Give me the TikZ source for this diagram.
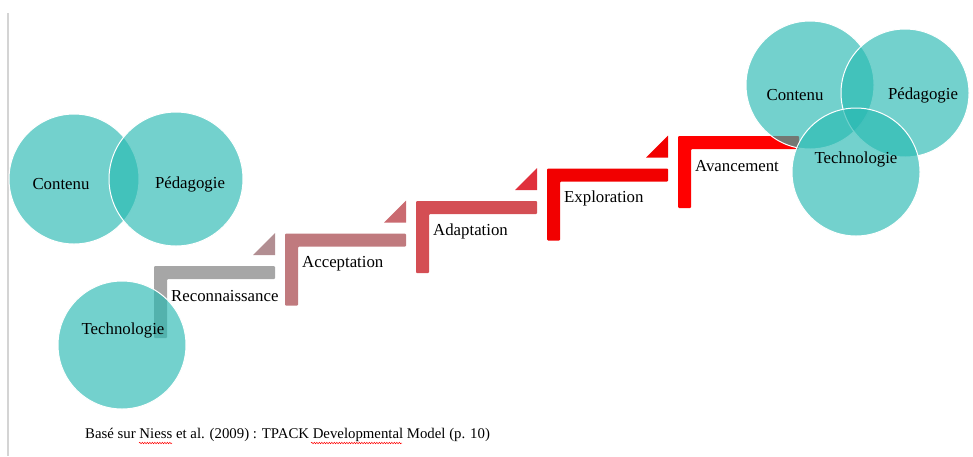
\documentclass[tikz,border=0pt]{standalone}
\usepackage{fontspec}
\setmainfont{Liberation Serif}
\definecolor{tpackteal}{HTML}{28B9B2}
\definecolor{stepgrey}{HTML}{A6A6A6}
\definecolor{tipgrey}{HTML}{B28E92}
\definecolor{steprose}{HTML}{C07A7E}
\definecolor{tiprose}{HTML}{CA6A70}
\definecolor{stepcoral}{HTML}{D44E54}
\definecolor{tipcoral}{HTML}{E0303C}
\definecolor{stepred}{HTML}{F20000}
\definecolor{newred}{HTML}{FF0000}
\definecolor{frameline}{HTML}{D4D4D4}
\usetikzlibrary{positioning, decorations.pathmorphing}
\newcommand{\palier}[5]
{
	\fill[#3, rounded corners=1pt] (#1,#2) -- ++(121,0) -- ++(0,13) -- ++(-108,0) -- ++(0,59) -- ++(-13,0) -- cycle;
	\node[word, anchor=west] at (#1+17,#2+30) (#4){#5}
}
\newcommand{\pointe}[3]
{
	\fill[#3] (#1+99,#2-11) -- (#1+121,#2-11) -- (#1+121,#2-33) -- cycle
}

\begin{document}
\begin{tikzpicture}[x=1pt, y=-1pt,
	word/.style={font=\fontsize{16.8}{20}\selectfont, inner sep=0pt},
	sphere/.style={circle, fill=tpackteal, fill opacity=0.65,
		draw=white, line width=1pt, inner sep=0pt, minimum size=128pt},
	spell/.style={red, line width=0.5pt, decorate,
		decoration={snake, amplitude=0.7pt, segment length=2.5pt}}]

	\useasboundingbox (0,0) rectangle (973,456);
	\draw[frameline, line width=1.5pt] (8,13) -- (8,456);

	% stairs
	\palier{154}{266}{stepgrey}{S1}{Reconnaissance};
	\pointe{154}{266}{tipgrey};
	\palier{285}{233.5}{steprose}{S2}{Acceptation};
	\pointe{285}{233.5}{tiprose};
	\palier{416}{201}{stepcoral}{S3}{Adaptation};
	\pointe{416}{201}{tipcoral};
	\palier{547}{168.5}{stepred}{S4}{Exploration};
	\pointe{547}{168.5}{stepred};
	\palier{678}{136}{newred}{S5}{Avancement};

	% separate domains
	\node[sphere, minimum size=130pt] at (74, 179) (C){};
	\node[sphere, minimum size=134pt] at (176, 179) (P){};
	\node[sphere] at (122, 345) (T){};

	% integrated domains
	\node[sphere] at (810, 85) (TC){};
	\node[sphere] at (905, 93) (TP){};
	\node[sphere] at (856, 172) (TT){};

	\node[word] at (61, 184) (Ctext){Contenu};
	\node[word] at (190, 184) (Ptext){Pédagogie};
	\node[word] at (123, 330) (Ttext){Technologie};
	\node[word] at (795, 95) (TCtext){Contenu};
	\node[word] at (923, 95) (TPtext){Pédagogie};
	\node[word] at (856, 159) (TTtext){Technologie};

	\node[anchor=west, inner sep=0pt, font=\fontsize{14.8}{18}\selectfont] at (85, 435) (source){Basé sur Niess et al. (2009) : TPACK Developmental Model (p. 10)};
	\draw[spell] (139,443) -- (172,443);
	\draw[spell] (311,443) -- (402,443);
\end{tikzpicture}
\end{document}
